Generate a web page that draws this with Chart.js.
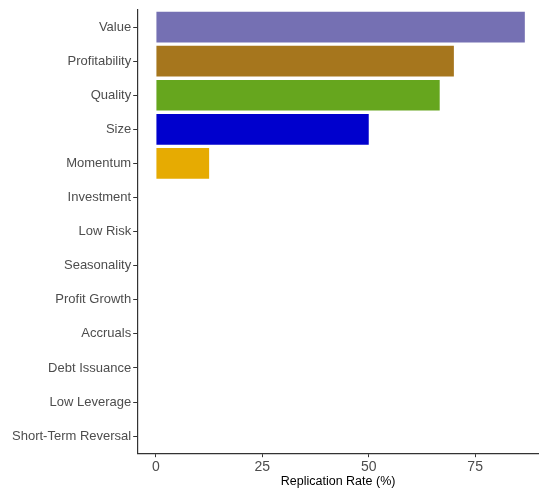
<!DOCTYPE html>
<html lang="en">

<head>
    <meta charset="UTF-8">
    <title>Replication Rate</title>
    <style>
        body {
            margin: 0;
            background: #fff;
        }

        .chart-container {
            width: 539px;
            height: 492px;
            position: relative;
        }
    </style>
</head>

<body>
    <div class="chart-container">
        <canvas id="rateChart"></canvas>
    </div>

    <script src="https://cdn.jsdelivr.net/npm/chart.js"></script>
    <script>
        const factors = ['Value', 'Profitability', 'Quality', 'Size', 'Momentum', 'Investment', 'Low Risk',
            'Seasonality', 'Profit Growth', 'Accruals', 'Debt Issuance', 'Low Leverage', 'Short-Term Reversal'];
        const rates = [86.67, 70, 66.67, 50, 12.5, 0, 0, 0, 0, 0, 0, 0, 0];
        const barColors = ['#7570B3', '#A6761D', '#66A61E', '#0000CD', '#E6AB02',
            '#999999', '#999999', '#999999', '#999999', '#999999', '#999999', '#999999', '#999999'];
        const xTicks = [0, 25, 50, 75];

        const font = 'Arial, "Liberation Sans", sans-serif';
        const ctx = document.getElementById('rateChart').getContext('2d');

        new Chart(ctx, {
            type: 'bar',
            data: {
                labels: factors,
                datasets: [{
                    data: rates,
                    backgroundColor: barColors,
                    categoryPercentage: 0.9,
                    barPercentage: 1
                }]
            },
            options: {
                indexAxis: 'y',
                responsive: true,
                maintainAspectRatio: false,
                animation: false,
                layout: {
                    padding: { left: 10, right: 0, top: 10, bottom: 0 }
                },
                plugins: {
                    legend: { display: false },
                    tooltip: { enabled: false }
                },
                scales: {
                    x: {
                        min: -4.4,
                        max: 90,
                        afterBuildTicks: (scale) => {
                            scale.ticks = xTicks.map(v => ({ value: v }));
                        },
                        border: { display: true, color: '#333333', width: 1.2 },
                        grid: { drawOnChartArea: false, tickLength: 4, color: '#333333' },
                        ticks: {
                            color: '#4D4D4D',
                            font: { family: font, size: 14 },
                            padding: 2
                        },
                        title: {
                            display: true,
                            text: 'Replication Rate (%)',
                            color: '#000000',
                            font: { family: font, size: 12.5 },
                            padding: { top: -3.5, bottom: 2.5 }
                        }
                    },
                    y: {
                        border: { display: true, color: '#333333', width: 1.2 },
                        grid: { drawOnChartArea: false, offset: false, tickLength: 4, color: '#333333' },
                        ticks: {
                            color: '#4D4D4D',
                            font: { family: font, size: 13 },
                            padding: 2
                        }
                    }
                }
            }
        });
    </script>
</body>

</html>
